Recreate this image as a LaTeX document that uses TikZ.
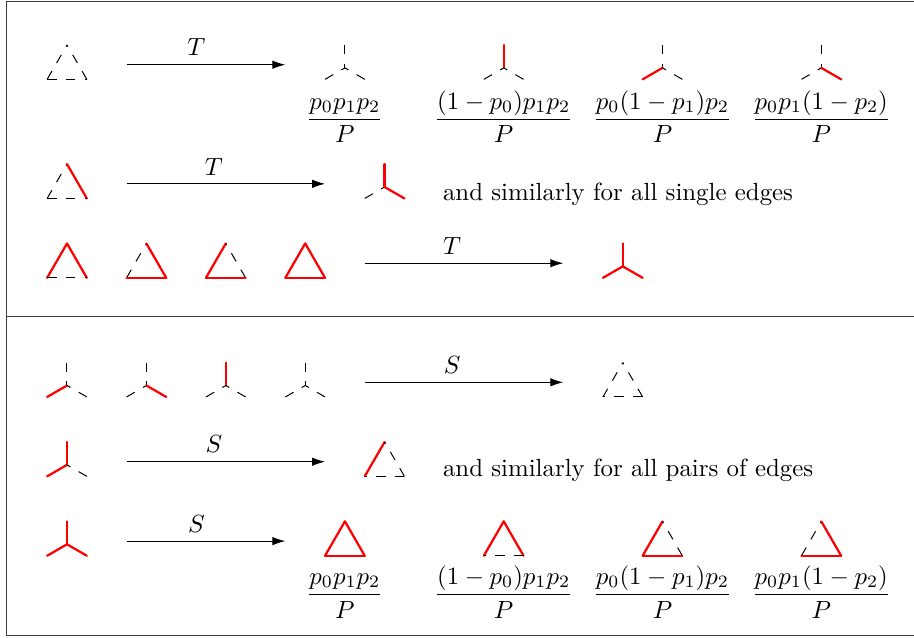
\documentclass[tikz,border=0pt]{standalone}
\usepackage{amsmath}
\usepackage{tikz}
\usetikzlibrary{
  arrows.meta,
  positioning
}
\definecolor{edgered}{RGB}{255, 0, 0}
\definecolor{framecolor}{RGB}{60, 60, 60}
\tikzset{
redge/.style={
  draw=edgered,
  line width=0.9pt,
  line cap=round
},
dedge/.style={
  draw=black,
  line width=0.4pt,
  dash pattern=on 3.8pt off 3.8pt
},
dedgeback/.style={
  dedge,
  dash phase=3.03pt
},
maparrow/.style={
  -{Latex[length=5.2pt,width=3.4pt]},
  line width=0.4pt
},
maplabel/.style={
  above,
  pos=0.44
},
fraclabel/.style={
  anchor=base
},
sidetext/.style={
  anchor=base west,
  inner sep=0pt
},
frameline/.style={
  draw=framecolor,
  line width=0.5pt
}
}
\newcommand{\trirad}{0.2887}
% triangle: centre, left edge, right edge, base
\newcommand{\triangleat}[4]{%
  \begin{scope}[shift={(#1)}]
    \draw[#2] (210:\trirad) -- (90:\trirad);
    \draw[#3] (330:\trirad) -- (90:\trirad);
    \draw[#4] (210:\trirad) -- (330:\trirad);
  \end{scope}}
% claw: centre, upper arm, left arm, right arm
\newcommand{\clawat}[4]{%
  \begin{scope}[shift={(#1)}]
    \draw[#2] (90:\trirad) -- (0,0);
    \draw[#3] (210:\trirad) -- (0,0);
    \draw[#4] (330:\trirad) -- (0,0);
  \end{scope}}

\begin{document}
\begin{tikzpicture}[x=31.94pt, y=31.94pt]
  \useasboundingbox (-0.8438,-7.2078) rectangle (10.6675,0.8149);

  % frame
  \draw[frameline] (10.6675,0.795) -- (-0.76,0.795) -- (-0.76,-7.19) -- (10.6675,-7.19);
  \draw[frameline] (-0.76,-3.17) -- (10.6675,-3.17);

  % T : row 1
  \triangleat{0,-0.04}{dedge}{dedge}{dedge}
  \coordinate (t1a) at (0.75,0);
  \coordinate (t1b) at (2.75,0);
  \draw[maparrow] (t1a) -- node[maplabel] (t1) {$T$} (t1b);
  \clawat{3.5,-0.04}{dedge}{dedge}{dedge}
  \clawat{5.5,-0.04}{redge}{dedge}{dedge}
  \clawat{7.5,-0.04}{dedge}{redge}{dedge}
  \clawat{9.5,-0.04}{dedge}{dedge}{redge}
  \node[fraclabel] (tp1) at (3.5,-0.77) {$\dfrac{p_0p_1p_2}{P}$};
  \node[fraclabel] (tp2) at (5.5,-0.77) {$\dfrac{(1-p_0)p_1p_2}{P}$};
  \node[fraclabel] (tp3) at (7.5,-0.77) {$\dfrac{p_0(1-p_1)p_2}{P}$};
  \node[fraclabel] (tp4) at (9.5,-0.77) {$\dfrac{p_0p_1(1-p_2)}{P}$};

  % T : row 2
  \triangleat{0,-1.54}{dedge}{redge}{dedge}
  \coordinate (t2a) at (0.75,-1.5);
  \coordinate (t2b) at (3.25,-1.5);
  \draw[maparrow] (t2a) -- node[maplabel] (t2) {$T$} (t2b);
  \clawat{4,-1.54}{redge}{dedge}{redge}
  \node[sidetext] (single) at (4.73,-1.705) {and similarly for all single edges};

  % T : row 3
  \triangleat{0,-2.54}{redge}{redge}{dedge}
  \triangleat{1,-2.54}{dedge}{redge}{redge}
  \triangleat{2,-2.54}{redge}{dedge}{redge}
  \triangleat{3,-2.54}{redge}{redge}{redge}
  \coordinate (t3a) at (3.75,-2.5);
  \coordinate (t3b) at (6.25,-2.5);
  \draw[maparrow] (t3a) -- node[maplabel] (t3) {$T$} (t3b);
  \clawat{7,-2.54}{redge}{redge}{redge}

  % S : row 1
  \clawat{0,-4.04}{dedge}{redge}{dedge}
  \clawat{1,-4.04}{dedge}{dedge}{redge}
  \clawat{2,-4.04}{redge}{dedge}{dedge}
  \clawat{3,-4.04}{dedge}{dedge}{dedge}
  \coordinate (s1a) at (3.75,-4);
  \coordinate (s1b) at (6.25,-4);
  \draw[maparrow] (s1a) -- node[maplabel] (s1) {$S$} (s1b);
  \triangleat{7,-4.04}{dedge}{dedge}{dedgeback}

  % S : row 2
  \clawat{0,-5.04}{redge}{redge}{dedge}
  \coordinate (s2a) at (0.75,-5);
  \coordinate (s2b) at (3.25,-5);
  \draw[maparrow] (s2a) -- node[maplabel] (s2) {$S$} (s2b);
  \triangleat{4,-5.04}{redge}{dedge}{dedgeback}
  \node[sidetext] (pairs) at (4.73,-5.19) {and similarly for all pairs of edges};

  % S : row 3
  \clawat{0,-6.04}{redge}{redge}{redge}
  \coordinate (s3a) at (0.75,-6);
  \coordinate (s3b) at (2.75,-6);
  \draw[maparrow] (s3a) -- node[maplabel] (s3) {$S$} (s3b);
  \triangleat{3.5,-6.04}{redge}{redge}{redge}
  \triangleat{5.5,-6.04}{redge}{redge}{dedgeback}
  \triangleat{7.5,-6.04}{redge}{dedge}{redge}
  \triangleat{9.5,-6.04}{dedge}{redge}{redge}
  \node[fraclabel] (sp1) at (3.5,-6.755) {$\dfrac{p_0p_1p_2}{P}$};
  \node[fraclabel] (sp2) at (5.5,-6.755) {$\dfrac{(1-p_0)p_1p_2}{P}$};
  \node[fraclabel] (sp3) at (7.5,-6.755) {$\dfrac{p_0(1-p_1)p_2}{P}$};
  \node[fraclabel] (sp4) at (9.5,-6.755) {$\dfrac{p_0p_1(1-p_2)}{P}$};
\end{tikzpicture}
\end{document}
